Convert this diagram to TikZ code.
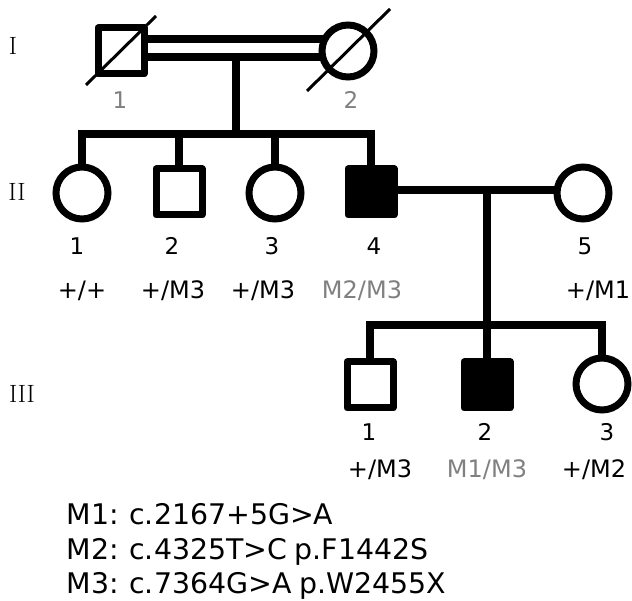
\documentclass[tikz,border=0pt]{standalone}
\usepackage{fontspec}
\newfontfamily\dejavu{DejaVu Sans}
\newfontfamily\dejavulegend[WordSpace=0.85]{DejaVu Sans}
\usetikzlibrary{backgrounds}
\definecolor{lblgray}{HTML}{808080}
\begin{document}
\begin{tikzpicture}[x=1pt,y=-1pt,
 male/.style={rectangle,draw,fill=white,line width=7pt,minimum size=46pt,inner sep=0pt,line join=round},
 female/.style={circle,draw,fill=white,line width=7pt,minimum size=52pt,inner sep=0pt},
 affected/.style={fill=black},
 conn/.style={line width=8pt},
 num/.style={font=\dejavu\fontsize{23}{23}\selectfont,anchor=base},
 geno/.style={font=\dejavu\fontsize{24}{24}\selectfont,anchor=base},
 gen/.style={font=\fontsize{25}{25}\selectfont,anchor=base},
 grey/.style={text=lblgray},
 slash/.style={line width=3pt},
 legend/.style={font=\dejavulegend\fontsize{28.4}{35}\selectfont,anchor=base west}
]
\useasboundingbox (0,0) rectangle (632,601);
% generation labels
\node[gen] (gI) at (13,55) {I};
\node[gen] (gII) at (17,201) {II};
\node[gen] (gIII) at (22,403) {III};
% generation I
\node[male] (I1) at (121,51) {};
\node[female] (I2) at (348,51) {};
\draw[slash] (86,85) -- (156,16);
\draw[slash] (307,91) -- (390,9);
\node[num,grey] (nI1) at (120,109) {1};
\node[num,grey] (nI2) at (351,109) {2};
% generation II
\node[female] (II1) at (82,193) {};
\node[male] (II2) at (179,192) {};
\node[female] (II3) at (275,193) {};
\node[male,affected] (II4) at (371,192) {};
\node[female] (II5) at (583,193) {};
\node[num] (nII1) at (77,255) {1};
\node[num] (nII2) at (172,255) {2};
\node[num] (nII3) at (272,255) {3};
\node[num] (nII4) at (374,255) {4};
\node[num] (nII5) at (585,255) {5};
\node[geno] (gtII1) at (82,299) {+/+};
\node[geno] (gtII2) at (173,299) {+/M3};
\node[geno] (gtII3) at (263,299) {+/M3};
\node[geno,grey] (gtII4) at (362,299) {M2/M3};
\node[geno] (gtII5) at (598,299) {+/M1};
% generation III
\node[male] (III1) at (370,385) {};
\node[male,affected] (III2) at (487,385) {};
\node[female] (III3) at (602,384) {};
\node[num] (nIII1) at (369,440) {1};
\node[num] (nIII2) at (485,440) {2};
\node[num] (nIII3) at (607,440) {3};
\node[geno] (gtIII1) at (380,477) {+/M3};
\node[geno,grey] (gtIII2) at (487,477) {M1/M3};
\node[geno] (gtIII3) at (594,477) {+/M2};
% legend
\node[legend] (L1) at (63,524) {M1: c.2167+5G>A};
\node[legend] (L2) at (63,559) {M2: c.4325T>C p.F1442S};
\node[legend] (L3) at (63,593) {M3: c.7364G>A p.W2455X};
% connectors
\coordinate (sibII) at (236,134);
\coordinate (desI) at (236,57.5);
\coordinate (mII) at (487,190);
\coordinate (sibIII) at (487,325);
\begin{scope}[on background layer]
\draw[conn] ([yshift=12pt]I1.center) -- ([yshift=12pt]I2.center);
\draw[conn] ([yshift=-6.5pt]I1.center) -- ([yshift=-6.5pt]I2.center);
\draw[conn] (desI) -- (sibII);
\draw[conn] (II1.center) -- (II1.center |- sibII) -- (II4.center |- sibII) -- (II4.center);
\draw[conn] (II2.center) -- (II2.center |- sibII);
\draw[conn] (II3.center) -- (II3.center |- sibII);
\draw[conn] (II4.center |- mII) -- (II5.center |- mII);
\draw[conn] (mII) -- (sibIII);
\draw[conn] (III1.center) -- (III1.center |- sibIII) -- (III3.center |- sibIII) -- (III3.center);
\draw[conn] (sibIII) -- (III2.center);
\end{scope}
\end{tikzpicture}
\end{document}
